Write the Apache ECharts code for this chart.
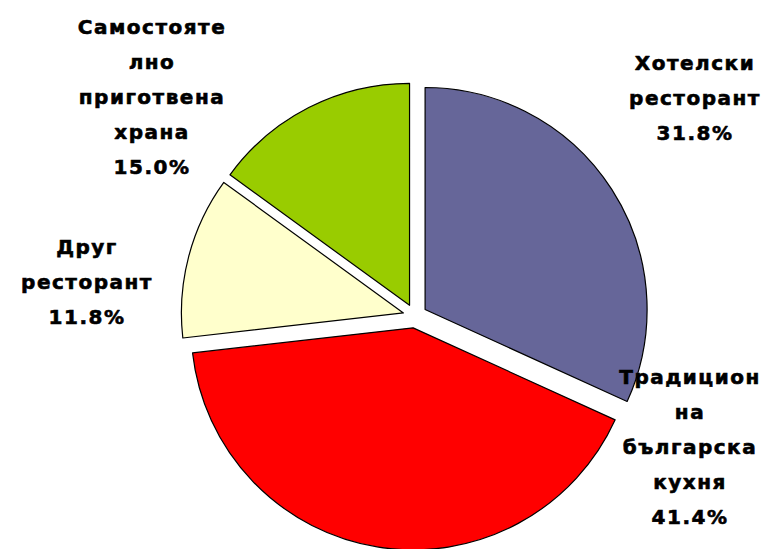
<!DOCTYPE html>
<html>
<head>
<meta charset="utf-8">
<script src="https://cdn.jsdelivr.net/npm/echarts@6/dist/echarts.min.js"></script>
<style>
  html, body { margin: 0; padding: 0; background: #ffffff; }
  #chart { width: 766px; height: 549px; }
  /* раздалечени букви като в оригинала */
  #chart text { letter-spacing: 1.5px; }
</style>
</head>
<body>
<div id="chart"></div>
<script>
// данни за кръговата диаграма
const names = [
  'Хотелски\nресторант',
  'Традицион\nна\nбългарска\nкухня',
  'Друг\nресторант',
  'Самостояте\nлно\nприготвена\nхрана'
]
const values = [31.8, 41.4, 11.8, 15.0]
const colors = ['#666699', '#ff0000', '#ffffcc', '#99cc00']

// центрове на надписите
const labelPos = [
  [695, 98],
  [690, 447],
  [87, 282],
  [152, 97]
]

const chart = echarts.init(document.getElementById('chart'), null, { renderer: 'svg' })
const option = {
  animation: false,
  // надписите на резените
  graphic: names.map((n, i) => ({
    type: 'text',
    z: 100,
    x: labelPos[i][0],
    y: labelPos[i][1],
    style: {
      text: n + '\n' + values[i].toFixed(1) + '%',
      fontFamily: 'DejaVu Sans',
      fontWeight: 'bold',
      fontSize: 20,
      lineHeight: 35,
      fill: '#000',
      stroke: '#000',
      lineWidth: 0.6,
      align: 'center',
      verticalAlign: 'middle'
    }
  })),
  series: [
    {
      type: 'pie',
      center: [415, 316],
      radius: 222,
      startAngle: 90,
      clockwise: true,
      selectedMode: 'multiple',
      selectedOffset: 12,
      emphasis: { disabled: true },
      itemStyle: { borderColor: '#000', borderWidth: 1.2 },
      select: { itemStyle: { borderColor: '#000', borderWidth: 1.2 } },
      label: { show: false },
      labelLine: { show: false },
      data: names.map((n, i) => ({
        name: n,
        value: values[i],
        selected: true,
        itemStyle: { color: colors[i] }
      }))
    }
  ]
}
chart.setOption(option)
</script>
</body>
</html>
